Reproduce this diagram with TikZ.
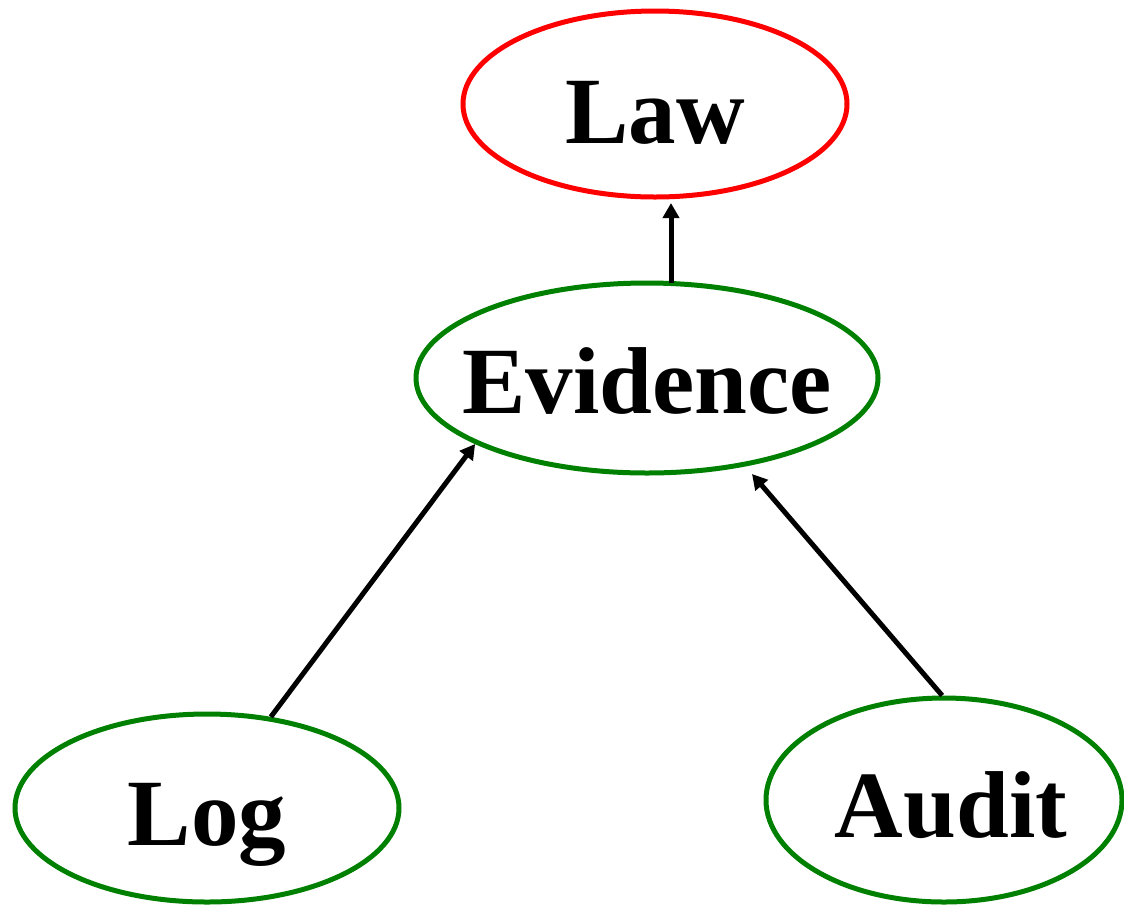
\documentclass[tikz,border=0pt]{standalone}
\usepackage{fontspec}
\setmainfont{Liberation Serif}
\usetikzlibrary{shapes.geometric,arrows.meta}
\definecolor{nodegreen}{RGB}{0,128,0}
\definecolor{lawred}{RGB}{255,0,0}
\tikzset{
  oval/.style={ellipse,draw=nodegreen,line width=5pt,inner sep=0pt},
  label text/.style={anchor=base,inner sep=0pt,font=\fontsize{95}{100}\selectfont\bfseries},
  link/.style={line width=5pt,draw=black,-{Triangle[length=15pt,width=16pt]}}
}
\begin{document}
\begin{tikzpicture}[x=1pt,y=-1pt]
\useasboundingbox (0,0) rectangle (1124,906);
\node[oval,draw=lawred,minimum width=384pt,minimum height=186pt] (law) at (655,104) {};
\node[oval,minimum width=462pt,minimum height=190pt] (evidence) at (647,378) {};
\node[oval,minimum width=384pt,minimum height=188pt] (log) at (207,808) {};
\node[oval,minimum width=356pt,minimum height=204pt] (audit) at (944,800) {};
\node[label text] (lawtxt) at (655,143) {Law};
\node[label text] (evidencetxt) at (647,413) {Evidence};
\node[label text] (logtxt) at (207,845) {Log};
\node[label text] (audittxt) at (951,837) {Audit};
\coordinate (lawtip) at (671,203);
\coordinate (evtop) at (671,283);
\coordinate (audittip) at (752,474);
\draw[link] (evtop) -- (lawtip);
\draw[link] (log.55.5) -- (evidence.201.4);
\draw[link] (audit.91.7) -- (audittip);
\end{tikzpicture}
\end{document}
